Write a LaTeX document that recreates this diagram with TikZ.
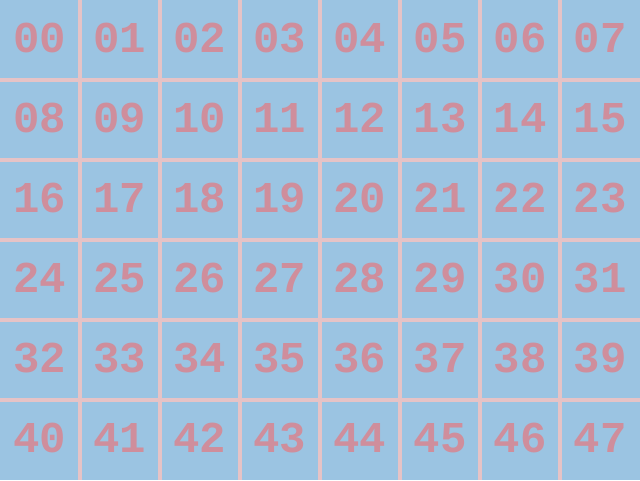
\documentclass[tikz,border=0pt]{standalone}
\usepackage{fontspec}
\setmonofont{Liberation Mono}
\definecolor{cellblue}{HTML}{9BC4E2}
\definecolor{gridpink}{HTML}{E6C3C6}
\definecolor{numpink}{HTML}{CF8E9C}
\begin{document}
\begin{tikzpicture}[x=1pt,y=-1pt,
  gridline/.style={draw=gridpink,line width=4pt},
  num/.style={text=numpink,font=\ttfamily\bfseries\fontsize{44}{44}\selectfont,anchor=center,inner sep=0pt}]
\fill[cellblue] (0,0) rectangle (640,480);
\useasboundingbox (0,0) rectangle (640,480);
\foreach \i in {1,...,7} \draw[gridline] (\i*80,0) -- (\i*80,480);
\foreach \j in {1,...,5} \draw[gridline] (0,\j*80) -- (640,\j*80);
\foreach \r in {0,...,5}{
  \foreach \c in {0,...,7}{
    \pgfmathtruncatemacro{\n}{\r*8+\c}
    \ifnum\n<10 \edef\lbl{0\n}\else\edef\lbl{\n}\fi
    \node[num] (n\lbl) at (\c*80+40,\r*80+38) {\lbl};
  }
}
\end{tikzpicture}
\end{document}
